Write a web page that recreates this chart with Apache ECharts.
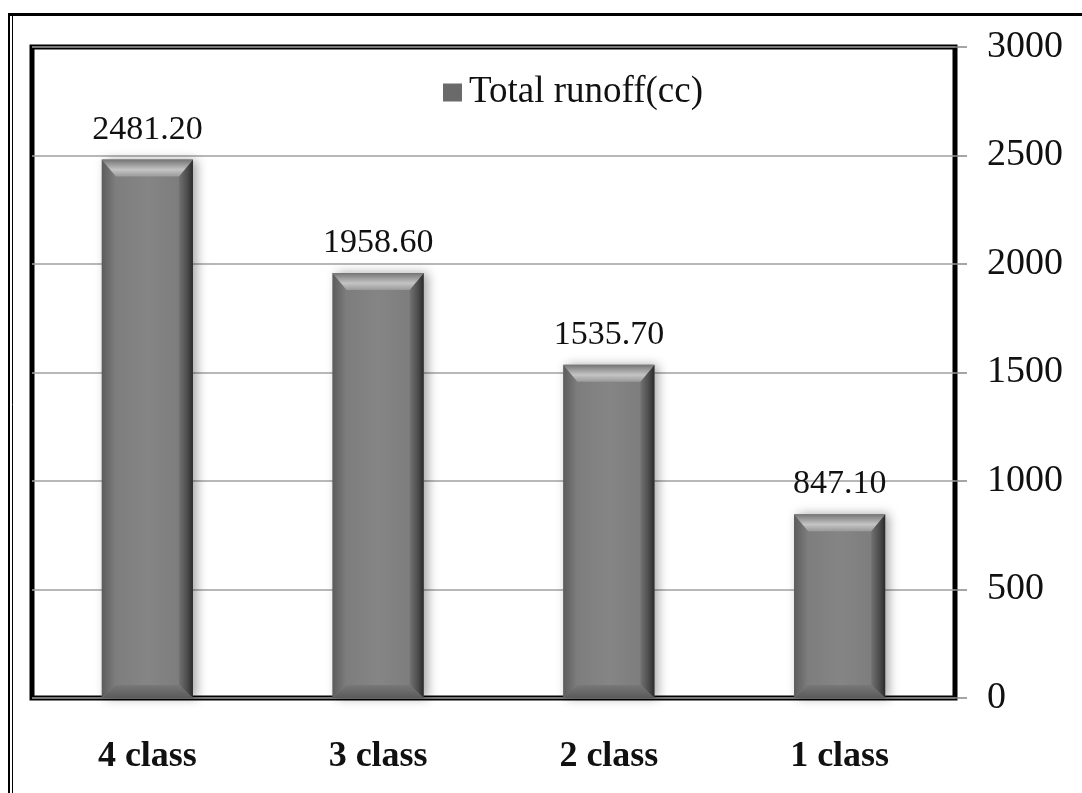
<!DOCTYPE html>
<html>
<head>
<meta charset="utf-8">
<script src="https://cdn.jsdelivr.net/npm/echarts@6/dist/echarts.min.js"></script>
<style>
  html, body { margin: 0; padding: 0; background: #fff; }
  #chart { width: 1082px; height: 793px; }
</style>
</head>
<body>
<div id="chart"></div>
<script>
// Runoff totals per class
const categories = ['4 class', '3 class', '2 class', '1 class'];
const runoff = [2481.20, 1958.60, 1535.70, 847.10];
const seriesName = 'Total runoff(cc)';
const yTicks = { min: 0, max: 3000, interval: 500 };

const SERIF = '"Liberation Serif", "Times New Roman", serif';

// Bevelled gray column with a soft shadow and a value label above it
function renderBar(params, api) {
  const cat = api.value(0);
  const v = api.value(1);
  const top = api.coord([cat, v]);
  const base = api.coord([cat, 0]);
  const bw = api.size([1, 0])[0] * 0.395;
  const x0 = top[0] - bw / 2, x1 = top[0] + bw / 2;
  const y0 = top[1], y1 = base[1];
  const bt = 17, bs = 14, bb = 13;
  const lin = (a, b, c, d, stops) => new echarts.graphic.LinearGradient(a, b, c, d, stops);
  return {
    type: 'group',
    children: [
      {
        type: 'rect',
        shape: { x: x0, y: y0, width: bw, height: y1 - y0 },
        style: {
          fill: lin(0, 0, 1, 0, [
            { offset: 0, color: '#7a7a7a' },
            { offset: 0.5, color: '#858585' },
            { offset: 1, color: '#7a7a7a' }
          ]),
          shadowBlur: 10,
          shadowOffsetX: 4,
          shadowColor: 'rgba(0,0,0,0.35)'
        }
      },
      {
        type: 'polygon',
        shape: { points: [[x0, y0], [x0 + bs, y0 + bt], [x0 + bs, y1 - bb], [x0, y1]] },
        style: { fill: lin(0, 0, 1, 0, [
          { offset: 0, color: '#5c5c5c' },
          { offset: 1, color: '#7e7e7e' }
        ]) }
      },
      {
        type: 'polygon',
        shape: { points: [[x1, y0], [x1 - bs, y0 + bt], [x1 - bs, y1 - bb], [x1, y1]] },
        style: { fill: lin(0, 0, 1, 0, [
          { offset: 0, color: '#727272' },
          { offset: 0.6, color: '#4c4c4c' },
          { offset: 1, color: '#2a2a2a' }
        ]) }
      },
      {
        type: 'polygon',
        shape: { points: [[x0, y0], [x1, y0], [x1 - bs, y0 + bt], [x0 + bs, y0 + bt]] },
        style: { fill: lin(0, 0, 0, 1, [
          { offset: 0, color: '#747474' },
          { offset: 0.6, color: '#c4c4c4' },
          { offset: 1, color: '#9a9a9a' }
        ]) }
      },
      {
        type: 'polygon',
        shape: { points: [[x0, y1], [x1, y1], [x1 - bs, y1 - bb], [x0 + bs, y1 - bb]] },
        style: { fill: lin(0, 0, 0, 1, [
          { offset: 0, color: '#787878' },
          { offset: 1, color: '#5a5a5a' }
        ]) }
      },
      {
        type: 'text',
        x: top[0],
        y: y0 - 30,
        style: {
          text: v.toFixed(2),
          font: '34px ' + SERIF,
          fill: '#111',
          align: 'center',
          verticalAlign: 'middle'
        }
      }
    ]
  };
}

const chart = echarts.init(document.getElementById('chart'), null, { renderer: 'canvas' });

chart.setOption({
  backgroundColor: '#fff',
  animation: false,
  grid: {
    left: 32, right: 127, top: 47, bottom: 95,
    show: true,
    borderColor: '#000',
    borderWidth: 5,
    backgroundColor: 'transparent'
  },
  legend: {
    data: [seriesName],
    left: 443,
    top: 74,
    padding: 0,
    icon: 'rect',
    itemWidth: 19,
    itemHeight: 18,
    itemStyle: { color: '#6a6a6a' },
    textStyle: { fontFamily: SERIF, fontSize: 37, color: '#111', padding: [0, 0, 0, 2] }
  },
  xAxis: {
    type: 'category',
    data: categories,
    axisLine: { show: false },
    axisTick: { show: false },
    axisLabel: {
      margin: 41,
      fontFamily: SERIF,
      fontSize: 36,
      fontWeight: 'bold',
      color: '#111'
    }
  },
  yAxis: {
    type: 'value',
    position: 'right',
    min: yTicks.min,
    max: yTicks.max,
    interval: yTicks.interval,
    axisLine: { show: false },
    axisTick: { show: true, length: 12, lineStyle: { color: '#888', width: 1.5 } },
    splitLine: { lineStyle: { color: '#a0a0a0', width: 1.5 } },
    axisLabel: {
      margin: 32,
      fontFamily: SERIF,
      fontSize: 38,
      color: '#111',
      formatter: (val) => String(val)
    }
  },
  graphic: [
    { type: 'line', shape: { x1: 8, y1: 14.5, x2: 1082, y2: 14.5 }, style: { stroke: '#000', lineWidth: 3 }, z: 100 },
    { type: 'line', shape: { x1: 9, y1: 13, x2: 9, y2: 793 }, style: { stroke: '#000', lineWidth: 2 }, z: 100 },
    { type: 'line', shape: { x1: 12.5, y1: 16, x2: 12.5, y2: 793 }, style: { stroke: '#000', lineWidth: 1 }, z: 100 }
  ],
  series: [{
    name: seriesName,
    type: 'custom',
    renderItem: renderBar,
    itemStyle: { color: '#6a6a6a' },
    encode: { x: 0, y: 1 },
    data: categories.map((c, i) => [i, runoff[i]]),
    z: 3
  }]
});
</script>
</body>
</html>
